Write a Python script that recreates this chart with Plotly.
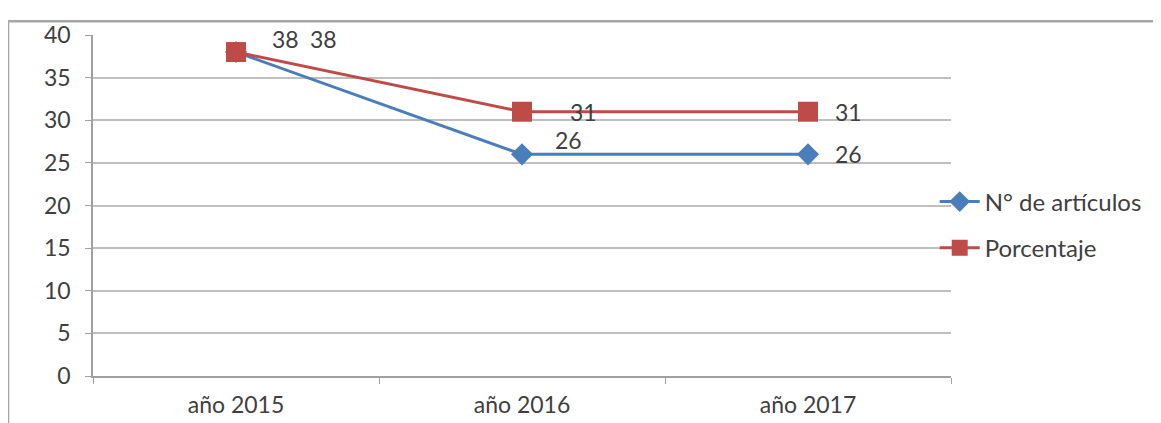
import plotly.graph_objects as go

categories = ["año 2015", "año 2016", "año 2017"]
articulos = [38, 26, 26]
porcentaje = [38, 31, 31]
series_names = ["N° de artículos", "Porcentaje"]
y_ticks = [0, 5, 10, 15, 20, 25, 30, 35, 40]

blue = "#4A7EBB"
red = "#BE4B48"
text_col = "#404040"
font_family = "Lato, Carlito, 'Open Sans', sans-serif"
fs = 23

fig = go.Figure()
fig.add_trace(go.Scatter(
    x=categories, y=articulos, name=series_names[0], mode="lines+markers",
    legendgroup="a",
    line=dict(color=blue, width=3),
    marker=dict(symbol="diamond", size=17, color=blue),
))
fig.add_trace(go.Scatter(
    x=categories, y=porcentaje, name=series_names[1], mode="lines+markers",
    legendgroup="b",
    line=dict(color=red, width=3),
    marker=dict(symbol="square", size=20, color=red),
))

# data labels (offsets in pixels)
blue_off = [(49, 13), (46, 14), (40, 0)]
red_off = [(87, 13), (61, 0), (40, 0)]
for vals, offs in ((articulos, blue_off), (porcentaje, red_off)):
    for c, v, (dx, dy) in zip(categories, vals, offs):
        fig.add_annotation(x=c, y=v, text=str(v), showarrow=False,
                           xshift=dx, yshift=dy,
                           font=dict(size=fs, color=text_col, family=font_family))

frame_col = "#A6A6A6"
fig.add_shape(type="line", xref="paper", yref="paper", x0=-0.099, x1=1.3,
              y0=1.0402, y1=1.0402, line=dict(color=frame_col, width=2.5))
fig.add_shape(type="line", xref="paper", yref="paper", x0=-0.099, x1=-0.099,
              y0=1.0402, y1=-0.16, line=dict(color=frame_col, width=2.5))

fig.update_layout(
    width=1161, height=423,
    margin=dict(l=85, r=218, t=20, b=55),
    paper_bgcolor="white", plot_bgcolor="white",
    font=dict(family=font_family, size=fs, color=text_col),
    showlegend=True,
    legend=dict(x=0.981, y=0.443, xanchor="left", yanchor="middle",
                font=dict(size=24, color=text_col), tracegroupgap=12,
                itemwidth=40, bgcolor="rgba(0,0,0,0)"),
    xaxis=dict(type="category", range=[-0.5, 2.5], showgrid=False,
               showline=True, linecolor="#A0A0A0", linewidth=1.5,
               ticks="outside", tickson="boundaries", ticklen=6,
               ticklabelstandoff=8,
               tickcolor="#A0A0A0", tickfont=dict(size=fs, color=text_col)),
    yaxis=dict(range=[0, 40], tickvals=y_ticks, showgrid=True,
               gridcolor="#BFBFBF", gridwidth=1.5,
               showline=True, linecolor="#A0A0A0", linewidth=1.5,
               ticks="outside", ticklen=6, tickcolor="#A0A0A0",
               ticklabelstandoff=10,
               zeroline=False, tickfont=dict(size=fs, color=text_col)),
)

fig.write_html("out.html")
